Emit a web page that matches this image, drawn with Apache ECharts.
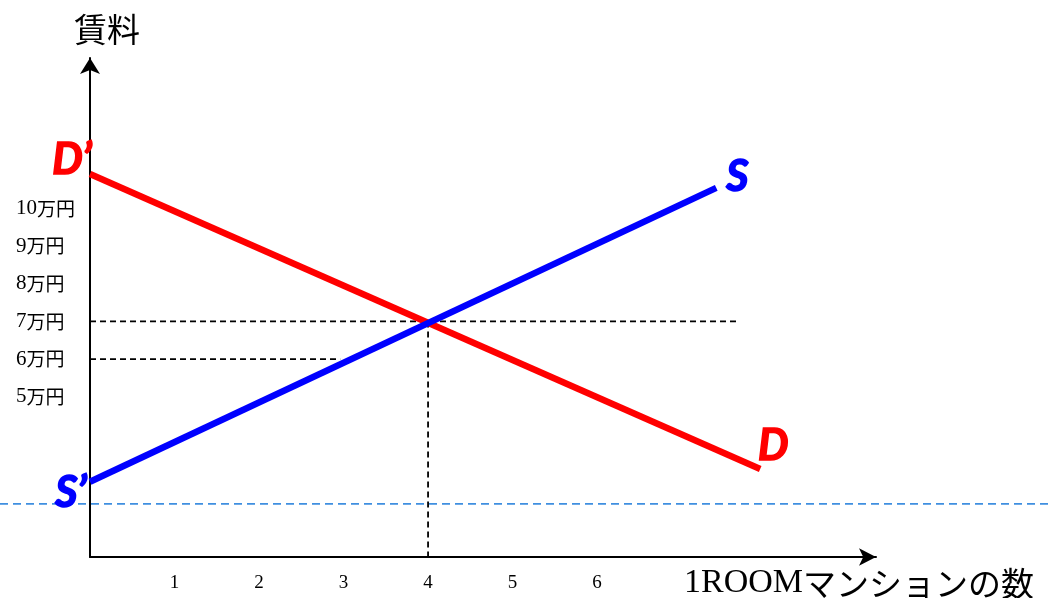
<!DOCTYPE html>
<html>
<head>
<meta charset="utf-8">
<script src="https://cdn.jsdelivr.net/npm/echarts@6/dist/echarts.min.js"></script>
<style>html,body{margin:0;padding:0;background:#fff}#c{width:1048px;height:598px}</style>
</head>
<body>
<div id="c"></div>
<script>
// ---- data ----
const xTicks = [1, 2, 3, 4, 5, 6];
const yTicks = [5, 6, 7, 8, 9, 10];
const yUnit = '万円';
const xName = ['1ROOM', 'マンションの数'];
const yName = '賃料';
const demandLine = [[0, 10.92], [7.93, 3.08]];
const demandNames = ['D’', 'D'];
const supplyLine = [[0, 2.74], [7.41, 10.55]];
const supplyNames = ['S’', 'S'];
const guidePrice7 = [[0, 7], [7.67, 7]];
const guidePrice6 = [[0, 6], [2.96, 6]];
const guideQty4 = [[4, 7], [4, 0.74]];
const blueDashLevel = 2.15;
const blueDashSpan = [0, 1];   // across the full page width
const xRange = [0, 9.3];
const yRange = [0.74, 14];

const chart = echarts.init(document.getElementById('c'), null, {renderer: 'canvas'});

const letterFont = {fontFamily: 'Lato', fontWeight: 'bold', fontStyle: 'italic', fontSize: 43, textBorderWidth: 1.6};
function labeled(points, names, color, offsets) {
  return points.map((p, i) => ({
    value: p,
    label: Object.assign({show: true, position: 'inside', formatter: names[i], color: color, textBorderColor: color, offset: offsets[i]}, letterFont)
  }));
}
function dashed(data, color, width, dash, extra) {
  return Object.assign({type: 'line', data: data, symbol: 'none', clip: false, silent: true, z: 1,
    lineStyle: {color: color, width: width, type: dash}}, extra || {});
}
const hiddenAxis = {show: false, axisLine: {show: false}, axisTick: {show: false}, axisLabel: {show: false}, splitLine: {show: false}};

const option = {
  backgroundColor: '#fff',
  animation: false,
  grid: [
    {left: 90, right: 172, top: 58, bottom: 41, containLabel: false},
    {left: 0, right: 0, top: 58, bottom: 41, containLabel: false}
  ],
  xAxis: [{
    type: 'value', min: xRange[0], max: xRange[1], gridIndex: 0,
    axisLine: {show: true, onZero: false, symbol: ['none', 'arrow'], symbolSize: [13, 17], lineStyle: {color: '#000', width: 2}},
    axisTick: {show: false}, splitLine: {show: false},
    axisLabel: {customValues: xTicks, color: '#000', fontFamily: 'Liberation Serif', fontSize: 19, margin: 17}
  }, Object.assign({type: 'value', gridIndex: 1, min: blueDashSpan[0], max: blueDashSpan[1]}, hiddenAxis)],
  yAxis: [{
    type: 'value', min: yRange[0], max: yRange[1], gridIndex: 0,
    axisLine: {show: true, onZero: false, symbol: ['none', 'arrow'], symbolSize: [15, 16], lineStyle: {color: '#000', width: 2}},
    axisTick: {show: false}, splitLine: {show: false},
    axisLabel: {
      customValues: yTicks, align: 'left', margin: 74,
      formatter: v => '{n|' + v + '}{u|' + yUnit + '}',
      rich: {
        n: {fontFamily: 'Liberation Serif', fontSize: 21, color: '#000'},
        u: {fontFamily: 'Noto Sans CJK JP', fontSize: 19, color: '#000'}
      }
    }
  }, Object.assign({type: 'value', gridIndex: 1, min: yRange[0], max: yRange[1]}, hiddenAxis)],
  series: [
    dashed(blueDashSpan.map(x => [x, blueDashLevel]), '#3f8fe0', 1.8, [8, 5], {xAxisIndex: 1, yAxisIndex: 1}),
    dashed(guidePrice7, '#000', 1.8, [6, 4]),
    dashed(guidePrice6, '#000', 1.8, [6, 4]),
    dashed(guideQty4, '#000', 1.8, [6, 4]),
    {type: 'line', data: labeled(demandLine, demandNames, '#ff0000', [[-18, -14], [13, -23]]),
     symbol: 'circle', symbolSize: 0.1, clip: false, z: 3, lineStyle: {color: '#ff0000', width: 6.5, cap: 'butt'}},
    {type: 'line', data: labeled(supplyLine, supplyNames, '#0000ff', [[-19, 11], [21, -11]]),
     symbol: 'circle', symbolSize: 0.1, clip: false, z: 4, lineStyle: {color: '#0000ff', width: 6.5, cap: 'butt'}}
  ],
  graphic: [
    {type: 'text', x: 107, y: 29, style: {text: yName, fill: '#000', font: '33px "Noto Sans CJK JP"', align: 'center', verticalAlign: 'middle'}},
    {type: 'text', x: 1034, y: 583, style: {
      text: '{a|' + xName[0] + '}{b|' + xName[1] + '}', align: 'right', verticalAlign: 'middle',
      rich: {
        a: {fontFamily: 'Liberation Serif', fontSize: 34, fill: '#000'},
        b: {fontFamily: 'Noto Sans CJK JP', fontSize: 33, fill: '#000'}
      }
    }}
  ]
};
chart.setOption(option);
</script>
</body>
</html>
